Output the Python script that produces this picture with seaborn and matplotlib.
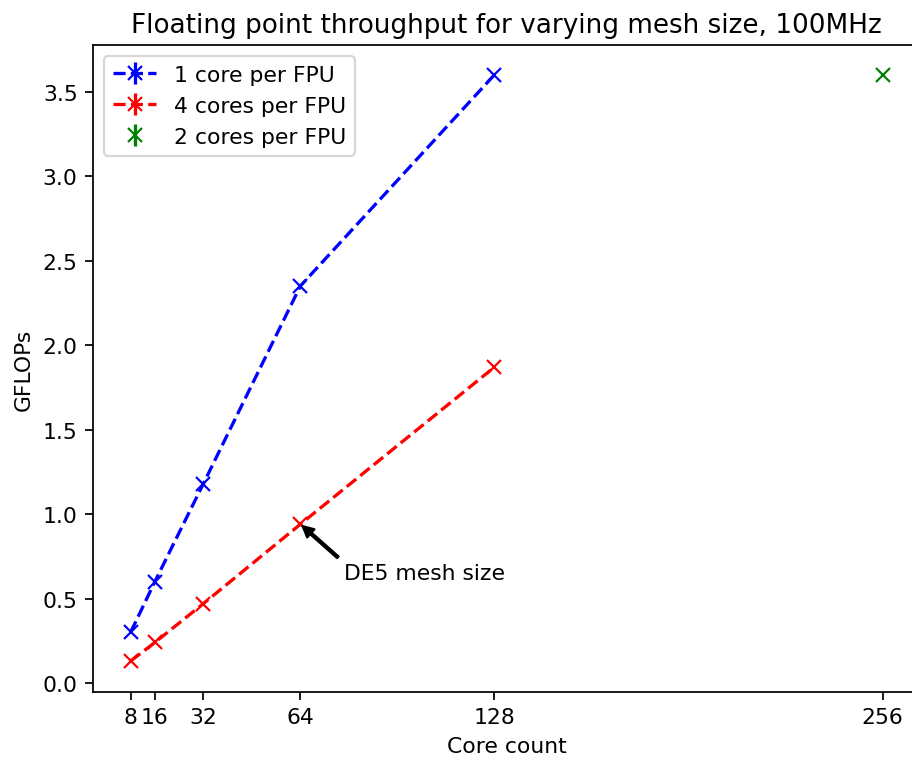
import matplotlib
matplotlib.use('Agg')
import matplotlib.pyplot as plt
import seaborn as sns
import pandas as pd

cores_1fpu = [8, 16, 32, 64, 128]
gflops_1fpu = [0.30, 0.60, 1.18, 2.35, 3.60]

cores_4fpu = [8, 16, 32, 64, 128]
gflops_4fpu = [0.13, 0.24, 0.47, 0.94, 1.87]

cores_2fpu = [256]
gflops_2fpu = [3.60]

xticks = [8, 16, 32, 64, 128, 256]

DPI = 157.2


def main():

    fig = plt.figure(figsize=(912 / DPI, 760 / DPI), dpi=DPI)
    ax = fig.add_axes([0.102, 0.088, 0.907, 0.851])

    series = [(cores_1fpu, gflops_1fpu, 'b', '--', '1 core per FPU'),
              (cores_4fpu, gflops_4fpu, 'r', '--', '4 cores per FPU'),
              (cores_2fpu, gflops_2fpu, 'g', 'none', '2 cores per FPU')]

    for xs, ys, col, ls, label in series:
        df = pd.DataFrame({'Core count': xs, 'GFLOPs': ys})
        sns.lineplot(x='Core count', y='GFLOPs', data=df, ax=ax, color=col, linestyle=ls,
                     marker='x', markersize=6, markeredgecolor=col, markeredgewidth=1.0,
                     linewidth=1.5, legend=False)
        # empty errorbar, only used for the legend handle
        ax.errorbar([], [], yerr=[], fmt='x' + ('--' if ls == '--' else ''), color=col,
                    label=label)

    ax.set_xticks(xticks)
    ax.set_xticklabels([str(x) for x in xticks])
    ax.set_xlim(-4.4, 268.4)
    ax.set_ylim(-0.054, 3.774)
    ax.set_xlabel('Core count')
    ax.set_ylabel('GFLOPs')
    ax.set_title('Floating point throughput for varying mesh size, 100MHz', fontsize=12)

    ax.annotate('DE5 mesh size', xy=(64, 0.94), xytext=(78.5, 0.615),
                arrowprops=dict(facecolor='black', width=1, headwidth=5, headlength=5, shrink=0.05))

    ax.legend(loc='upper left')

    plt.savefig('out.png', dpi=DPI)
    plt.close()


if __name__ == '__main__':
    main()
